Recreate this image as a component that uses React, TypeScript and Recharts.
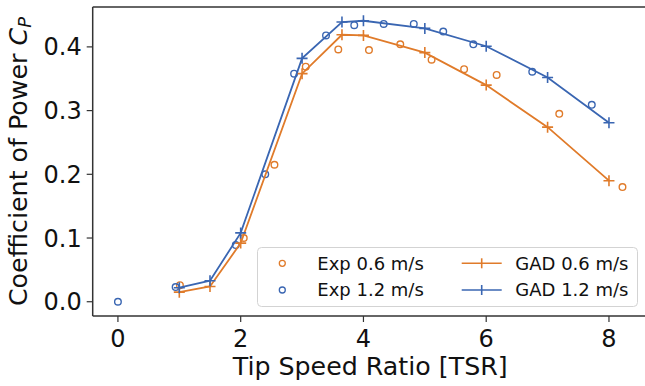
import React from 'react';
import { ScatterChart, Scatter, XAxis, YAxis, Legend, ReferenceLine } from 'recharts';

const ORANGE = '#e07b2a';
const BLUE = '#3a66b2';
const AXIS = '#333333';
const TEXT = '#111111';
const FONT = 'DejaVu Sans';

// Experimental data
const expTsr06 = [1.01, 2.05, 2.55, 3.06, 3.59, 4.09, 4.6, 5.11, 5.64, 6.17, 7.19, 8.22];
const expCp06 = [0.026, 0.1, 0.215, 0.369, 0.396, 0.395, 0.404, 0.38, 0.365, 0.356, 0.295, 0.18];
const expTsr12 = [0, 0.94, 1.92, 2.4, 2.87, 3.39, 3.85, 4.33, 4.82, 5.3, 5.79, 6.75, 7.72];
const expCp12 = [0, 0.023, 0.089, 0.2, 0.358, 0.418, 0.434, 0.436, 0.436, 0.424, 0.404, 0.361, 0.309];

// GAD simulation data
const gadTsr = [1, 1.5, 2, 3, 3.65, 4, 5, 6, 7, 8];
const gadCp06 = [0.015, 0.024, 0.092, 0.358, 0.419, 0.418, 0.391, 0.34, 0.274, 0.19];
const gadCp12 = [0.022, 0.033, 0.108, 0.382, 0.439, 0.441, 0.429, 0.401, 0.352, 0.281];

const xTicks = [0, 2, 4, 6, 8];
const yTicks = [0, 0.1, 0.2, 0.3, 0.4];
const xDomain: [number, number] = [-0.411, 8.631];
const yDomain: [number, number] = [-0.0224, 0.4626];

const legendLabels = ['Exp 0.6 m/s', 'Exp 1.2 m/s', 'GAD 0.6 m/s', 'GAD 1.2 m/s'];

const zip = (xs: number[], ys: number[]) => xs.map((x, i) => ({ x, y: ys[i] }));

const exp06 = zip(expTsr06, expCp06);
const exp12 = zip(expTsr12, expCp12);
const gad06 = zip(gadTsr, gadCp06);
const gad12 = zip(gadTsr, gadCp12);

const makeCircle = (color: string) => (props: any) => (
  <circle cx={props.cx} cy={props.cy} r={3.3} fill="none" stroke={color} strokeWidth={1.4} />
);

const makeCross = (color: string) => (props: any) => {
  const { cx, cy } = props;
  const h = 5.5;
  return (
    <g stroke={color} strokeWidth={1.6}>
      <line x1={cx - h} y1={cy} x2={cx + h} y2={cy} />
      <line x1={cx} y1={cy - h} x2={cx} y2={cy + h} />
    </g>
  );
};

const YLabel = (props: any) => {
  const vb = props.viewBox || { x: 0, y: 0, width: 0, height: 0 };
  const cx = vb.x + 27;
  const cy = vb.y + vb.height / 2;
  return (
    <text
      x={cx}
      y={cy}
      transform={`rotate(-90, ${cx}, ${cy})`}
      textAnchor="middle"
      fontSize={25.3}
      fontFamily={FONT}
      fill={TEXT}
    >
      {'Coefficient of Power '}
      <tspan fontStyle="italic">C</tspan>
      <tspan fontStyle="italic" fontSize={18} dy={4}>P</tspan>
    </text>
  );
};

const XLabel = (props: any) => {
  const vb = props.viewBox || { x: 0, y: 0, width: 0, height: 0 };
  return (
    <text
      x={vb.x + vb.width / 2}
      y={vb.y + 59}
      textAnchor="middle"
      fontSize={25.3}
      fontFamily={FONT}
      fill={TEXT}
    >
      Tip Speed Ratio [TSR]
    </text>
  );
};

const renderLegend = () => {
  const rows = [16.3, 43];
  return (
    <svg width={381} height={60} style={{ display: 'block' }}>
      <rect x={0.5} y={0.5} width={380} height={59} rx={4} ry={4} fill="#ffffff" fillOpacity={0.85} stroke="#d3d3d3" strokeWidth={1} />
      <circle cx={25.3} cy={rows[0]} r={3} fill="none" stroke={ORANGE} strokeWidth={1.3} />
      <circle cx={25.3} cy={rows[1]} r={3} fill="none" stroke={BLUE} strokeWidth={1.3} />
      {[ORANGE, BLUE].map((c, i) => (
        <g key={c} stroke={c} strokeWidth={1.6}>
          <line x1={204.7} y1={rows[i]} x2={244.7} y2={rows[i]} />
          <line x1={224.7} y1={rows[i] - 5} x2={224.7} y2={rows[i] + 5} />
        </g>
      ))}
      <g fontFamily={FONT} fontSize={18} fill={TEXT}>
        <text x={60.3} y={22.5}>{legendLabels[0]}</text>
        <text x={60.3} y={49}>{legendLabels[1]}</text>
        <text x={258.3} y={22.5}>{legendLabels[2]}</text>
        <text x={258.3} y={49}>{legendLabels[3]}</text>
      </g>
    </svg>
  );
};

export default function App() {
  return (
    <div style={{ position: 'absolute', left: 0, top: 0, width: 645, height: 386, overflow: 'hidden', background: '#fff' }}>
      <ScatterChart width={650} height={386} margin={{ top: 7, right: 2.3, bottom: 0, left: 0 }}>
        <XAxis
          type="number"
          dataKey="x"
          domain={xDomain}
          allowDataOverflow
          ticks={xTicks}
          interval={0}
          height={70}
          tickSize={6}
          tickMargin={8}
          tick={{ fontSize: 24, fill: TEXT, fontFamily: FONT }}
          axisLine={{ stroke: AXIS, strokeWidth: 1.5 }}
          tickLine={{ stroke: AXIS, strokeWidth: 1.2 }}
          label={<XLabel />}
        />
        <YAxis
          type="number"
          dataKey="y"
          domain={yDomain}
          allowDataOverflow
          ticks={yTicks}
          interval={0}
          width={92.7}
          tickSize={6}
          tickMargin={5}
          tickFormatter={(v: number) => v.toFixed(1)}
          tick={{ fontSize: 24, fill: TEXT, fontFamily: FONT }}
          axisLine={{ stroke: AXIS, strokeWidth: 1.5 }}
          tickLine={{ stroke: AXIS, strokeWidth: 1.2 }}
          label={<YLabel />}
        />
        <ReferenceLine y={yDomain[1]} stroke={AXIS} strokeWidth={1.5} ifOverflow="extendDomain" />
        <Legend
          layout="vertical"
          align="center"
          verticalAlign="middle"
          content={renderLegend}
          wrapperStyle={{ position: 'absolute', left: 257, top: 247, width: 381, height: 60 }}
        />
        <Scatter name={legendLabels[0]} data={exp06} dataKey="y" shape={makeCircle(ORANGE)} isAnimationActive={false} />
        <Scatter name={legendLabels[1]} data={exp12} dataKey="y" shape={makeCircle(BLUE)} isAnimationActive={false} />
        <Scatter
          name={legendLabels[2]}
          data={gad06}
          dataKey="y"
          line={{ stroke: ORANGE, strokeWidth: 1.8 }}
          lineType="joint"
          shape={makeCross(ORANGE)}
          isAnimationActive={false}
        />
        <Scatter
          name={legendLabels[3]}
          data={gad12}
          dataKey="y"
          line={{ stroke: BLUE, strokeWidth: 1.8 }}
          lineType="joint"
          shape={makeCross(BLUE)}
          isAnimationActive={false}
        />
      </ScatterChart>
    </div>
  );
}
